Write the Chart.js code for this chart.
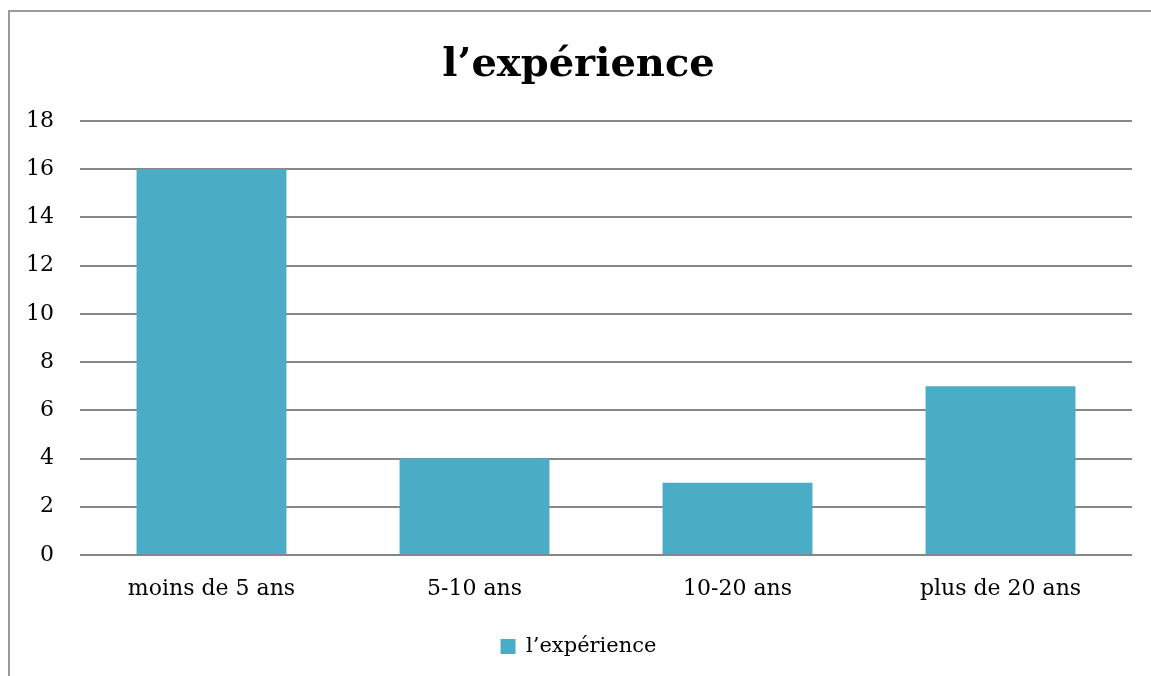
<!DOCTYPE html>
<html>
<head>
<meta charset="utf-8">
<script src="https://cdn.jsdelivr.net/npm/chart.js@4/dist/chart.umd.min.js"></script>
<style>
  html, body { margin: 0; padding: 0; background: #fff; overflow: hidden; }
  #wrap { position: relative; width: 1151px; height: 676px; overflow: hidden; }
  #frame { position: absolute; left: 8px; top: 10px; width: 1200px; height: 700px;
           border-left: 2px solid #9a9a9a; border-top: 2px solid #9a9a9a; }
  canvas { position: absolute; left: 0; top: 0; }
</style>
</head>
<body>
<div id="wrap">
  <div id="frame"></div>
  <canvas id="c" width="1151" height="676"></canvas>
</div>
<script>
// Years of experience, grouped by band
const categories = ['moins de 5 ans', '5-10 ans', '10-20 ans', 'plus de 20 ans'];
const seriesName = 'l\u2019expérience';
const values = [16, 4, 3, 7];
const yTicks = [0, 2, 4, 6, 8, 10, 12, 14, 16, 18];

const serif = "'DejaVu Serif', 'Liberation Serif', serif";
const barColor = '#4BACC6';
const gridColor = '#878787';

new Chart(document.getElementById('c'), {
  type: 'bar',
  data: {
    labels: categories,
    datasets: [{
      label: seriesName,
      data: values,
      backgroundColor: barColor,
      borderWidth: 0,
      categoryPercentage: 1,
      barPercentage: 0.57
    }]
  },
  options: {
    responsive: false,
    animation: false,
    devicePixelRatio: 1,
    layout: { padding: { top: 0, right: 19, bottom: 9, left: 25 } },
    plugins: {
      title: {
        display: true,
        text: seriesName,
        color: '#000',
        font: { family: serif, size: 40, weight: 'bold' },
        padding: { top: 42, bottom: 31 }
      },
      legend: {
        display: true,
        position: 'bottom',
        labels: {
          color: '#000',
          font: { family: serif, size: 21 },
          boxWidth: 15,
          boxHeight: 15,
          padding: 10
        }
      },
      tooltip: { enabled: false }
    },
    scales: {
      x: {
        grid: { display: false, drawTicks: false },
        border: { display: false },
        ticks: { color: '#000', font: { family: serif, size: 22 }, padding: 21, maxRotation: 0 },
        afterFit: (s) => { s.height = 71; }
      },
      y: {
        min: 0,
        max: 18,
        afterBuildTicks: (s) => { s.ticks = yTicks.map(v => ({ value: v })); },
        grid: { color: gridColor, lineWidth: 2, drawTicks: false },
        border: { display: false },
        ticks: { color: '#000', font: { family: serif, size: 22 }, padding: 26 },
        afterFit: (s) => { s.width = 55; }
      }
    }
  }
});
</script>
</body>
</html>
